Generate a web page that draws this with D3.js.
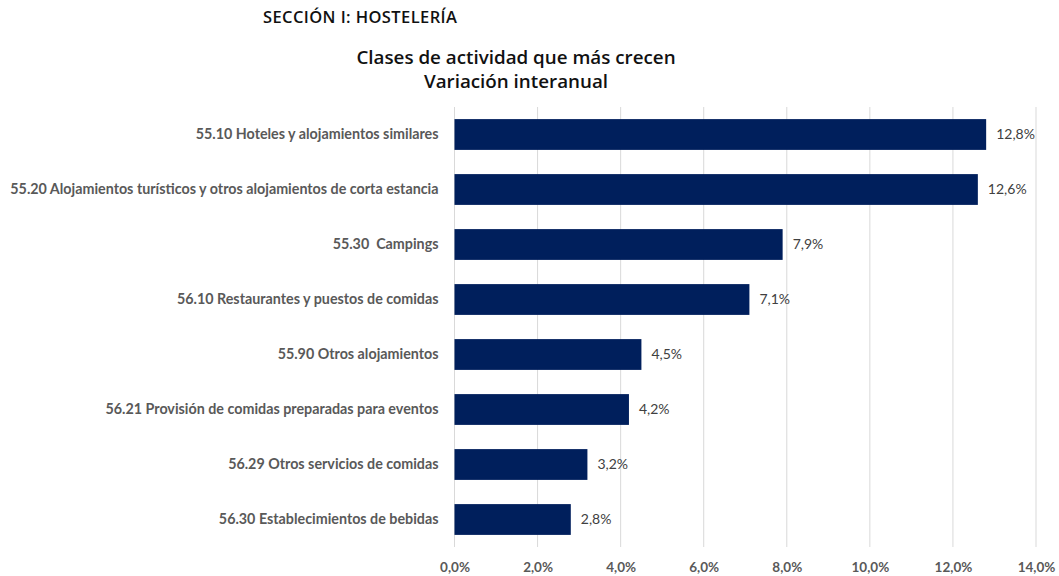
<!DOCTYPE html>
<html><head><meta charset="utf-8">
<script src="https://cdn.jsdelivr.net/npm/d3@7"></script>
<style>
body{margin:0;background:#fff;}
svg text{font-family:Lato,"Open Sans",sans-serif;white-space:pre;}
</style></head>
<body><svg id="chart" width="1059" height="576"></svg>
<script>
const categories = [
  "55.10 Hoteles y alojamientos similares",
  "55.20 Alojamientos turísticos y otros alojamientos de corta estancia",
  "55.30  Campings",
  "56.10 Restaurantes y puestos de comidas",
  "55.90 Otros alojamientos",
  "56.21 Provisión de comidas preparadas para eventos",
  "56.29 Otros servicios de comidas",
  "56.30 Establecimientos de bebidas"
];
const values = [12.8, 12.6, 7.9, 7.1, 4.5, 4.2, 3.2, 2.8];
const tickValues = [0, 2, 4, 6, 8, 10, 12, 14];
const sectionTitle = "SECCIÓN I: HOSTELERÍA";
const titleLines = ["Clases de actividad que más crecen", "Variación interanual"];

const svg = d3.select("#chart");
const fmt = v => d3.format(".1f")(v).replace(".", ",") + "%";

const x = d3.scaleLinear().domain([0, 14]).range([454.5, 1036]);
const y = d3.scaleBand().domain(categories).range([107, 547]).paddingInner(0.44).paddingOuter(0.22);

// headings
svg.append("text").attr("x", 263).attr("y", 23)
  .style("font-family", "'Open Sans', sans-serif")
  .attr("font-size", 16.5).attr("font-weight", 600).attr("fill", "#111")
  .attr("letter-spacing", 0.4)
  .text(sectionTitle);
svg.selectAll("text.title").data(titleLines).join("text").attr("class", "title")
  .attr("x", 516).attr("y", (d, i) => 64 + i * 24)
  .style("font-family", "'Open Sans', sans-serif")
  .attr("text-anchor", "middle").attr("font-size", 18.8).attr("font-weight", 600).attr("fill", "#111")
  .text(d => d);

// vertical gridlines
svg.append("g").selectAll("line").data(tickValues).join("line")
  .attr("x1", d => x(d)).attr("x2", d => x(d))
  .attr("y1", 107).attr("y2", 547)
  .attr("stroke", "#d9d9d9").attr("stroke-width", 1);

// bottom axis labels
const xAxis = d3.axisBottom(x).tickValues(tickValues).tickFormat(d => fmt(d)).tickSize(0).tickPadding(15);
const gx = svg.append("g").attr("transform", "translate(0,547)").call(xAxis);
gx.select(".domain").remove();
gx.selectAll("text").attr("font-size", 13.5).attr("font-weight", 700).attr("fill", "#595959");

// category labels
const yAxis = d3.axisLeft(y).tickSize(0).tickPadding(16);
const gy = svg.append("g").attr("transform", `translate(${x(0)},0)`).call(yAxis);
gy.select(".domain").remove();
gy.selectAll("text").attr("font-size", 14.3).attr("font-weight", 700).attr("fill", "#595959");

// bars
svg.append("g").selectAll("rect").data(values).join("rect")
  .attr("x", x(0)).attr("y", (d, i) => y(categories[i]))
  .attr("width", d => x(d) - x(0)).attr("height", y.bandwidth())
  .attr("fill", "#001f5c");

// value labels
svg.append("g").selectAll("text").data(values).join("text")
  .attr("x", d => x(d) + 10).attr("y", (d, i) => y(categories[i]) + y.bandwidth() / 2)
  .attr("dy", "0.35em").attr("font-size", 14).attr("fill", "#404040")
  .text(d => fmt(d));
</script></body></html>
